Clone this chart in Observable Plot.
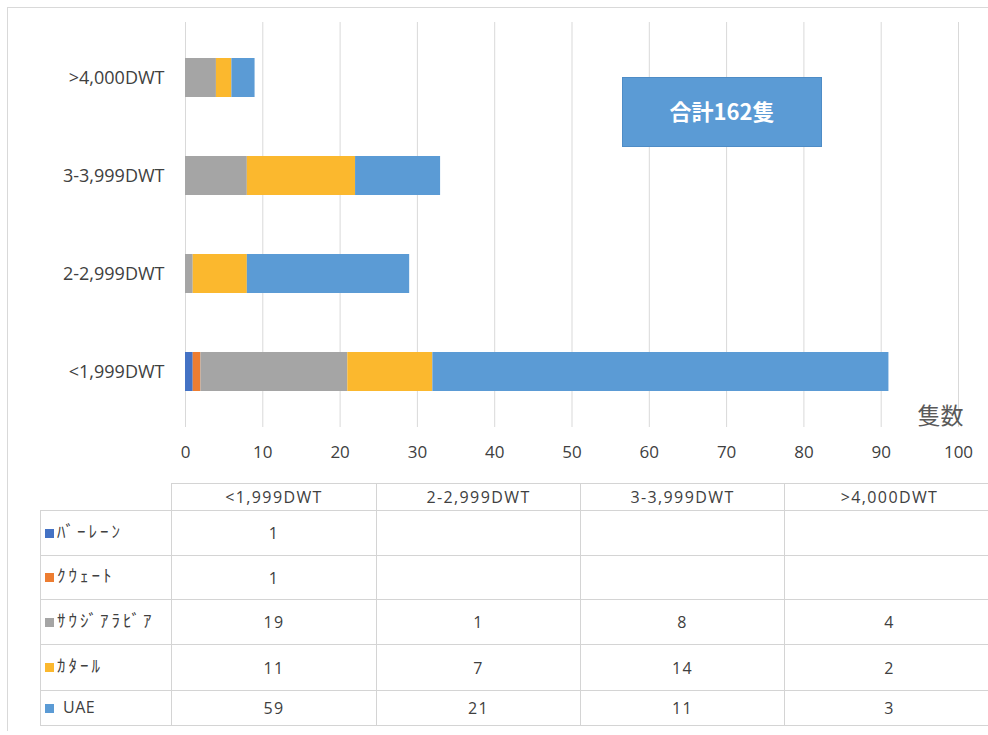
<!DOCTYPE html>
<html>
<head>
<meta charset="utf-8">
<script src="https://cdn.jsdelivr.net/npm/d3@7"></script>
<script src="https://cdn.jsdelivr.net/npm/@observablehq/plot@0.6"></script>
<style>
  body { margin: 0; background: #fff; }
  #wrap { position: relative; width: 988px; height: 735px; overflow: hidden; background: #fff;
          font-family: "Open Sans", "Noto Sans", sans-serif; color: #404040; }
  #frame { position: absolute; left: 7px; top: 7px; width: 1000px; height: 723px;
           border-left: 1px solid #d9d9d9; border-top: 1px solid #d9d9d9; pointer-events: none; }
  #chart { position: absolute; left: 0; top: 0; }
  #total { position: absolute; left: 622px; top: 77px; width: 198px; height: 63px;
           background: #5B9BD5; border: 1px solid #4E8CC6; color: #fff;
           font: bold 22px "Noto Sans CJK JP", sans-serif; display: flex;
           align-items: center; justify-content: center; padding-bottom: 5px; box-sizing: content-box; }
  #table { position: absolute; left: 40px; top: 483px; border-collapse: collapse; table-layout: fixed; }
  #table td { border: 1px solid #d4d4d4; padding: 0; text-align: center; vertical-align: middle;
              font-size: 16px; letter-spacing: 1.4px; color: #404040; }
  #table td.blank { border: none; }
  #table td.name { text-align: left; padding-left: 4px; font: 17px "Noto Sans CJK JP", sans-serif;
                   letter-spacing: 3px; white-space: nowrap; }
  #table td.name span.key { display: inline-block; width: 9px; height: 9px; margin-right: 3px;
                            vertical-align: 3px; }
  #table td.name span.lab { position: relative; top: -3px; }
  #table td.name span.lab.latin { font: 16px "Open Sans", sans-serif; letter-spacing: 0.5px; margin-left: 6px; }
</style>
</head>
<body>
<div id="wrap">
  <div id="frame"></div>
  <div id="chart"></div>
  <div id="total"></div>
  <table id="table"></table>
</div>
<script>
// Tanker size classes (DWT) and the fleet count per country
const sizes = ["<1,999DWT", "2-2,999DWT", "3-3,999DWT", ">4,000DWT"];
const countries = ["ﾊﾞｰﾚｰﾝ", "ｸｳｪｰﾄ", "ｻｳｼﾞｱﾗﾋﾞｱ", "ｶﾀｰﾙ", "UAE"];
const bahrain = [1, null, null, null];
const kuwait = [1, null, null, null];
const saudi = [19, 1, 8, 4];
const qatar = [11, 7, 14, 2];
const uae = [59, 21, 11, 3];
const colors = ["#4472C4", "#ED7D31", "#A5A5A5", "#FBB82E", "#5B9BD5"];
const xTicks = [0, 10, 20, 30, 40, 50, 60, 70, 80, 90, 100];
const unitLabel = "隻数";

const series = [bahrain, kuwait, saudi, qatar, uae];

// long-form rows for the stacked bars
const rows = [];
sizes.forEach((s, i) => {
  series.forEach((vals, k) => {
    if (vals[i] != null) rows.push({size: s, country: countries[k], value: vals[i]});
  });
});
const total = d3.sum(rows, d => d.value);

const chart = Plot.plot({
  width: 988,
  height: 470,
  marginLeft: 185,
  marginRight: 30,
  marginTop: 22,
  marginBottom: 43,
  style: {fontFamily: "'Open Sans', 'Noto Sans', sans-serif", color: "#404040", background: "transparent"},
  x: {domain: [0, 100]},
  y: {domain: sizes.slice().reverse(), paddingInner: 0.6, paddingOuter: 0.35},
  color: {domain: countries, range: colors},
  marks: [
    Plot.gridX(xTicks, {stroke: "#d9d9d9", strokeOpacity: 1, strokeWidth: 1}),
    Plot.barX(rows, Plot.stackX({x: "value", y: "size", fill: "country", order: countries})),
    Plot.axisX(xTicks, {tickSize: 0, tickPadding: 18, fontSize: 17, label: null,
                        fill: "#404040", style: {letterSpacing: "1.5px"}}),
    Plot.axisY({tickSize: 0, tickPadding: 21, fontSize: 18, label: null,
                fill: "#404040", style: {letterSpacing: "1.6px"}}),
    Plot.text([unitLabel], {frameAnchor: "bottom-right", text: d => d, textAnchor: "end",
                            lineAnchor: "middle", dx: 5, dy: -11, fontSize: 23, fill: "#595959",
                            fontFamily: "'Noto Sans CJK JP', sans-serif"})
  ]
});
document.getElementById("chart").appendChild(chart);

document.getElementById("total").textContent = `合計${total}隻`;

// data table below the chart
const table = d3.select("#table");
const colWidths = [131, 205, 204, 204, 210];
const colgroup = table.append("colgroup");
colWidths.forEach(w => colgroup.append("col").style("width", w + "px"));
table.style("width", d3.sum(colWidths) + "px");

const head = table.append("tr").style("height", "27px");
head.append("td").attr("class", "blank");
sizes.forEach(s => head.append("td").text(s));

const rowHeights = [45, 44, 45, 46, 35];
countries.forEach((c, k) => {
  const tr = table.append("tr").style("height", rowHeights[k] + "px");
  const name = tr.append("td").attr("class", "name");
  name.append("span").attr("class", "key").style("background", colors[k]);
  name.append("span").attr("class", /^[\x00-\x7f]+$/.test(c) ? "lab latin" : "lab").text(c);
  series[k].forEach(v => tr.append("td").text(v == null ? "" : v));
});
</script>
</body>
</html>
